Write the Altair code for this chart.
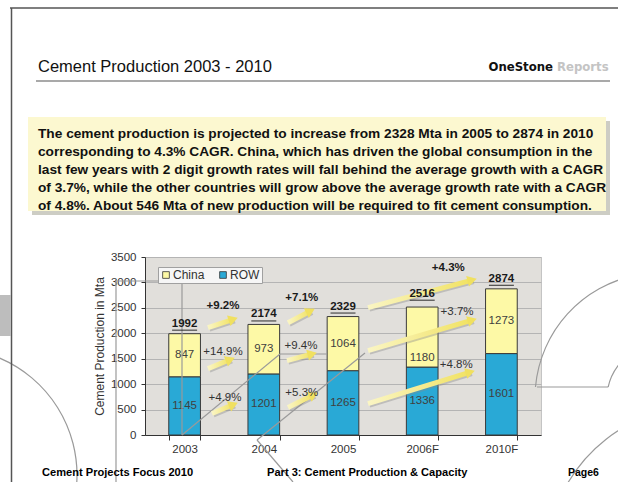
import math
import altair as alt
import pandas as pd

# ---------------- data ----------------
years = ["2003", "2004", "2005", "2006F", "2010F"]
row_vals = [1145, 1201, 1265, 1336, 1601]
china_vals = [847, 973, 1064, 1180, 1273]

# where the China value labels sit (Mta); 2006F is pushed down below the arrow in the original
china_label_at = [1568, 1687, 1797, 1521, 2237]
# extra lift of the total labels (Mta) - 2006F sits a little higher in the original
total_label_lift = [0, 0, 0, 65, 0]

growth_labels = ["+9.2%", "+14.9%", "+4.9%", "+7.1%", "+9.4%", "+5.3%", "+4.3%", "+3.7%", "+4.8%"]
growth_bold = [True, False, False, True, False, False, True, False, False]
label_x = [0.485, 0.485, 0.51, 1.48, 1.47, 1.48, 3.33, 3.44, 3.43]      # category-index units
label_v = [2542, 1639, 736, 2699, 1757, 834, 3288, 2424, 1384]          # Mta
arrow_x1 = [0.295, 0.295, 0.346, 1.306, 1.293, 1.306, 2.316, 2.316, 2.316]
arrow_x2 = [0.674, 0.636, 0.674, 1.646, 1.672, 1.684, 3.692, 3.692, 3.667]
arrow_v1 = [2110, 1305, 422, 2208, 1463, 540, 2503, 1659, 618]
arrow_v2 = [2306, 1521, 638, 2483, 1620, 834, 3072, 2287, 1266]

box_lines = [
    "The cement production is projected to increase from 2328 Mta in 2005 to 2874 in 2010",
    "corresponding to 4.3% CAGR. China, which has driven the global consumption in the",
    "last few years with 2 digit growth rates will fall behind the average growth with a CAGR",
    "of 3.7%, while the other countries will grow above the average growth rate with a CAGR",
    "of 4.8%. About 546 Mta of new production will be required to fit cement consumption.",
]

# ---------------- layout ----------------
W, H = 396, 178
OX, OY = 145, 257
PAGE_W, PAGE_H = 618, 482
FONT = "Liberation Sans"
NARROW = "Liberation Sans Narrow, DejaVu Sans Condensed, Liberation Sans, sans-serif"
YT = "Cement Production in Mta"
YELLOW = "#fdf9a6"
BLUE = "#29a9d6"


def px(X):
    return X - OX


def py(Y):
    return Y - OY


one = alt.Data(values=[{"a": 1}])

rows = []
for i, yr in enumerate(years):
    rows.append(dict(year=yr, series="ROW", value=row_vals[i], ord=0, mid=row_vals[i] / 2))
    rows.append(dict(year=yr, series="China", value=china_vals[i], ord=1, mid=china_label_at[i]))
df = pd.DataFrame(rows)
df_tot = pd.DataFrame({
    "year": years,
    "total": [r + c for r, c in zip(row_vals, china_vals)],
})
df_tot["pos"] = df_tot["total"] + pd.Series(total_label_lift)

sx = W / 5.0
sy = H / 3500.0
arr = []
for i in range(len(arrow_x1)):
    dxp = (arrow_x2[i] - arrow_x1[i]) * sx
    dyp = (arrow_v2[i] - arrow_v1[i]) * sy
    L = math.hypot(dxp, dyp)
    ux, uy = dxp / L, dyp / L
    hx = arrow_x2[i] - 5 * ux / sx
    hv = arrow_v2[i] - 5 * uy / sy
    ang = (360 - math.degrees(math.atan2(dyp, dxp))) % 360
    arr.append(dict(x1=arrow_x1[i], v1=arrow_v1[i], hx=hx, hv=hv, ang=ang))
df_arr = pd.DataFrame(arr)
df_lab = pd.DataFrame({"lab": growth_labels, "gx": label_x, "gv": label_v, "bold": growth_bold})

yscale = alt.Scale(domain=[0, 3500], nice=False, zero=True)
xq = alt.Scale(domain=[-0.5, 4.5], nice=False, zero=False)
xband = alt.Scale(paddingInner=0.6, paddingOuter=0.3)

yaxis = alt.Axis(values=list(range(0, 3501, 500)), format="d", labelFontSize=11.5, labelFont=FONT,
                 labelColor="#333", tickSize=4, tickColor="#333", domainColor="#333",
                 labelPadding=5, titleFontSize=12, titleFont=FONT, titleFontWeight="normal",
                 titleColor="#333", titlePadding=4, grid=True, gridColor="#b4b4b4")
xaxis = alt.Axis(tickBand="extent", labelAngle=0, labelFontSize=11.5, labelFont=FONT,
                 labelColor="#333", labelPadding=3, tickSize=5, tickColor="#333",
                 domainColor="#333", grid=False)


def Y(field, **kw):
    return alt.Y(field, scale=yscale, title=YT, axis=yaxis, **kw)


def XB(field="year:N", show=True):
    if show:
        return alt.X(field, sort=years, title=None, scale=xband, axis=xaxis)
    return alt.X(field, sort=years, title=None, scale=xband, axis=None)


def XQ(field):
    return alt.X(field, scale=xq, axis=None)


# ---------------- chart layers ----------------
bars = alt.Chart(df).mark_bar(stroke="#3a3a3a", strokeWidth=1).encode(
    x=XB(),
    y=Y("value:Q", stack="zero"),
    color=alt.Color("series:N", scale=alt.Scale(domain=["China", "ROW"], range=[YELLOW, BLUE]),
                    legend=alt.Legend(title=None, orient="none", legendX=13, legendY=10,
                                      direction="horizontal", symbolType="square", symbolSize=45,
                                      symbolStrokeColor="#333", symbolStrokeWidth=0.8,
                                      labelFontSize=12, labelFont=FONT, labelColor="#333",
                                      fillColor="#f6f6f6", strokeColor="#a0a0a0", padding=2,
                                      columnPadding=12, labelOffset=1)),
    order=alt.Order("ord:Q", sort="ascending"),
)

seg = alt.Chart(df).mark_text(fontSize=11.5, font=FONT, color="#404040").encode(
    x=XB(), y=Y("mid:Q"), text=alt.Text("value:Q", format="d"))

inner = alt.layer(bars, seg)

tot = alt.Chart(df_tot).mark_text(fontSize=11.5, font=FONT, fontWeight="bold", color="#1a1a1a",
                                  dy=-10).encode(
    x=XB(show=False), y=Y("pos:Q"), text=alt.Text("total:Q", format="d"))
underline = alt.Chart(df_tot).mark_tick(thickness=1.3, size=25, yOffset=-3.5, color="#1a1a1a").encode(
    x=XB(show=False), y=Y("pos:Q"))
inner2 = alt.layer(underline, tot)

# decorative background lines of the slide (drawn over the bars)
GRAYLINE = "#9a9a9a"


def hline(x1, x2, y, color=GRAYLINE, w=1.2):
    return alt.Chart(one).mark_rule(color=color, strokeWidth=w).encode(
        x=alt.value(px(x1)), x2=alt.value(px(x2)), y=alt.value(py(y)))


def seg_line(x1, y1, x2, y2, color=GRAYLINE, w=1.2):
    return alt.Chart(one).mark_rule(color=color, strokeWidth=w).encode(
        x=alt.value(px(x1)), x2=alt.value(px(x2)), y=alt.value(py(y1)), y2=alt.value(py(y2)))


def arc(cx, cy, r, t1, t2, color=GRAYLINE):
    return alt.Chart(one).mark_arc(radius=r + 0.6, radius2=r - 0.6, theta=t1, theta2=t2,
                                   fill=color).encode(
        x=alt.value(px(cx)), y=alt.value(py(cy)))


deco = [
    seg_line(116, 281, 116, 482),
    hline(116, 182, 281),
    seg_line(182, 281, 182, 435),
    seg_line(182, 435, 280, 354),
    hline(280, 327, 354),
    seg_line(257, 440, 365, 353),
    seg_line(257, 440, 293, 482),
    arc(-50, 475, 127, 0.39, 1.63),
    arc(660, 398, 125, 4.80, 6.10),
    hline(537, 608, 387),
    arc(660, 398, 53, 4.92, 5.8),
    arc(700, 560, 153, 5.24, 6.0),
]

# arrows
arrow_grad = alt.LinearGradient(
    gradient="linear", x1=0, x2=1, y1=0, y2=0,
    stops=[alt.GradientStop(color="#faf5c4", offset=0),
           alt.GradientStop(color="#f1e262", offset=1)])
shadow = alt.Chart(df_arr).mark_rule(color="#8a8a8a", strokeWidth=5, opacity=0.4,
                                     xOffset=1.5, x2Offset=1.5, yOffset=1.5, y2Offset=1.5).encode(
    x=XQ("x1:Q"), x2="hx:Q", y=Y("v1:Q"), y2="hv:Q")
shaft = alt.Chart(df_arr).mark_rule(stroke=arrow_grad, strokeWidth=5).encode(
    x=XQ("x1:Q"), x2="hx:Q", y=Y("v1:Q"), y2="hv:Q")
head = alt.Chart(df_arr).mark_point(shape="triangle-right", filled=True, size=120,
                                    color="#f0e060", opacity=1).encode(
    x=XQ("hx:Q"), y=Y("hv:Q"), angle=alt.Angle("ang:Q", scale=None))

glab_b = alt.Chart(df_lab).transform_filter("datum.bold").mark_text(
    fontSize=11.5, font=FONT, fontWeight="bold", color="#1a1a1a").encode(
    x=XQ("gx:Q"), y=Y("gv:Q"), text="lab:N")
glab_n = alt.Chart(df_lab).transform_filter("!datum.bold").mark_text(
    fontSize=11.5, font=FONT, color="#333").encode(
    x=XQ("gx:Q"), y=Y("gv:Q"), text="lab:N")

# slide furniture
border_top = hline(10, 618, 8, color="#555", w=1.5)
border_left = seg_line(11.5, 8, 11.5, 482, color="#555", w=1.5)
left_tab = alt.Chart(one).mark_rect(fill="#bdbdbd").encode(
    x=alt.value(px(0)), x2=alt.value(px(11)), y=alt.value(py(295)), y2=alt.value(py(336)))

title = alt.Chart(one).mark_text(text="Cement Production 2003 - 2010", align="left", baseline="middle",
                                 fontSize=16.5, font=FONT, color="#111").encode(
    x=alt.value(px(38)), y=alt.value(py(67)))
brand1 = alt.Chart(one).mark_text(text="OneStone", align="right", baseline="middle", fontSize=13,
                                  font=NARROW, fontWeight="bold", color="#111").encode(
    x=alt.value(px(553)), y=alt.value(py(67)))
brand2 = alt.Chart(one).mark_text(text="Reports", align="left", baseline="middle", fontSize=13,
                                  font=NARROW, fontWeight="bold", color="#c4c4c4").encode(
    x=alt.value(px(557)), y=alt.value(py(67)))
head_rule = hline(36, 610, 81, color="#555", w=1.2)

box_shadow = alt.Chart(one).mark_rect(fill="#cdcdc4").encode(
    x=alt.value(px(32)), x2=alt.value(px(610)), y=alt.value(py(121)), y2=alt.value(py(215)))
box = alt.Chart(one).mark_rect(fill="#fcf8d0").encode(
    x=alt.value(px(28)), x2=alt.value(px(606)), y=alt.value(py(117)), y2=alt.value(py(211)))
box_text = alt.Chart(one).mark_text(text="\n".join(box_lines), lineBreak="\n", lineHeight=18,
                                    align="left", baseline="middle", fontSize=13.7, font=FONT,
                                    fontWeight="bold", color="#111").encode(
    x=alt.value(px(38)), y=alt.value(py(134)))

foot_style = dict(baseline="middle", align="left", font=FONT, fontWeight="bold", color="#000")
foot1 = alt.Chart(one).mark_text(text="Cement Projects Focus 2010", fontSize=11.1, **foot_style).encode(
    x=alt.value(px(42)), y=alt.value(py(473)))
foot2 = alt.Chart(one).mark_text(text="Part 3: Cement Production & Capacity", fontSize=11.1,
                                 **foot_style).encode(
    x=alt.value(px(267)), y=alt.value(py(473)))
foot3 = alt.Chart(one).mark_text(text="Page6", fontSize=10.5, **foot_style).encode(
    x=alt.value(px(568)), y=alt.value(py(473)))

chart = alt.layer(
    inner, *deco, shadow, shaft, head, inner2, glab_b, glab_n,
    border_top, border_left, left_tab, title, brand1, brand2, head_rule,
    box_shadow, box, box_text, foot1, foot2, foot3,
).resolve_scale(x="independent").properties(
    width=W, height=H,
    padding={"left": OX, "top": OY, "right": PAGE_W - OX - W, "bottom": PAGE_H - OY - H},
    autosize=alt.AutoSizeParams(type="none"),
    background="white",
).configure_view(fill="#e1dfdb", stroke="#c4c4c4")

chart.save("out.html", embed_options={"renderer": "svg", "actions": False})
